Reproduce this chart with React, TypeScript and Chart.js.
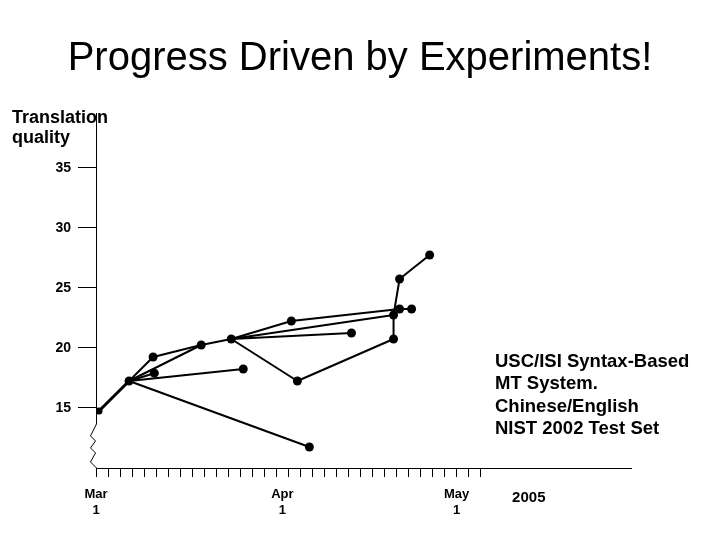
import React, { useEffect, useRef } from 'react';
import { Chart, registerables } from 'chart.js';

Chart.register(...registerables);

const FONT = '"Liberation Sans", Arial, Helvetica, sans-serif';

// Experiments: day offset from Mar 1 2005, translation quality score
const experimentDays = [0.5, 5.5, 9.5, 9.7, 17.5, 22.5, 24.5, 32.5, 33.5, 35.5, 42.5, 49.5, 49.5, 50.5, 52.5, 50.5, 55.5];
const experimentScores = [14.75, 17.25, 19.25, 17.9, 20.25, 20.75, 18.25, 22.25, 17.25, 11.75, 21.25, 20.75, 22.75, 23.25, 23.25, 25.75, 27.75];
const experimentRadii = [3.5, 4.5, 4.5, 4.5, 4.5, 4.5, 4.5, 4.5, 4.5, 4.5, 4.5, 4.5, 4.5, 4.5, 4.5, 4.5, 4.5];
// Which experiment grew out of which (index pairs)
const links: [number, number][] = [
  [0, 1], [1, 2], [2, 4], [1, 4], [1, 3], [1, 6], [1, 9],
  [4, 5], [5, 7], [5, 12], [5, 10], [5, 8], [8, 11], [11, 12],
  [12, 15], [15, 16], [7, 13], [13, 14],
];

const yTickValues = [15, 20, 25, 30, 35];
const xTickMarkDays = [0, 2, 4, 6, 8, 10, 12, 14, 16, 18, 20, 22, 24, 26, 28, 30, 32, 34, 36, 38, 40, 42, 44, 46, 48, 50, 52, 54, 56, 58, 60, 62, 64];
const xLabelDays = [0, 31, 60];
const xLabelTexts = [['Mar', '1'], ['Apr', '1'], ['May', '1']];
const yearDay = 72;
const yearLabel = '2005';

const titleText = 'Progress Driven by Experiments!';
const yTitleLines = ['Translation', 'quality'];
const noteLines = ['USC/ISI Syntax-Based', 'MT System.', 'Chinese/English', 'NIST 2002 Test Set'];

const axisBreakPlugin = {
  id: 'axisBreak',
  beforeDatasetsDraw(chart: any) {
    const { ctx, chartArea } = chart;
    const yScale = chart.scales.y;
    const L = chartArea.left + 0.5;
    const top = chartArea.top;
    const bottom = chartArea.bottom;
    const breakY = yScale.getPixelForValue(13.67);
    ctx.save();
    ctx.strokeStyle = '#000';
    ctx.lineWidth = 1;
    ctx.beginPath();
    ctx.moveTo(L, top);
    ctx.lineTo(L, breakY);
    ctx.lineTo(L - 6, breakY + 12);
    ctx.lineTo(L - 1, breakY + 17);
    ctx.lineTo(L - 6, breakY + 24);
    ctx.lineTo(L - 1, breakY + 29);
    ctx.lineTo(L - 6, breakY + 38);
    ctx.lineTo(L, bottom);
    ctx.stroke();
    ctx.restore();
  },
};

export default function App() {
  const canvasRef = useRef<HTMLCanvasElement | null>(null);

  useEffect(() => {
    if (!canvasRef.current) return;
    const pointData = experimentDays.map((d, i) => ({ x: d, y: experimentScores[i] }));
    const lineSets = links.map(([a, b], i) => ({
      type: 'scatter' as const,
      data: [
        { x: experimentDays[a], y: experimentScores[a] },
        { x: experimentDays[b], y: experimentScores[b] },
      ],
      showLine: true,
      borderColor: '#000',
      borderWidth: i === 0 ? 3 : 2,
      pointRadius: 0,
      pointHoverRadius: 0,
      order: 1,
    }));

    const chart = new Chart(canvasRef.current, {
      type: 'scatter',
      data: {
        datasets: [
          {
            data: pointData,
            showLine: false,
            pointRadius: experimentRadii,
            pointBackgroundColor: '#000',
            pointBorderWidth: 0,
            pointBorderColor: '#000',
            order: 0,
          } as any,
          ...lineSets,
        ],
      },
      options: {
        animation: false,
        responsive: false,
        events: [],
        layout: { padding: { left: 0, top: 113, right: 89, bottom: 0 } },
        plugins: { legend: { display: false }, tooltip: { enabled: false }, title: { display: false } },
        scales: {
          x: {
            type: 'linear',
            min: 0,
            max: 89,
            afterBuildTicks: (s: any) => {
              const vals = [...xTickMarkDays, ...xLabelDays, yearDay].filter((v, i, arr) => arr.indexOf(v) === i).sort((p, q) => p - q);
              s.ticks = vals.map((v) => ({ value: v }));
            },
            afterFit: (s: any) => { s.height = 72; },
            border: { display: true, color: '#000', width: 1 },
            grid: {
              display: true,
              drawOnChartArea: false,
              drawTicks: true,
              tickLength: 9,
              lineWidth: 1,
              tickColor: (c: any) => (c.tick && xTickMarkDays.includes(c.tick.value) ? '#000' : 'rgba(0,0,0,0)'),
            },
            ticks: {
              autoSkip: false,
              maxRotation: 0,
              minRotation: 0,
              padding: 8.7,
              color: '#000',
              font: (c: any) => (c.tick && c.tick.value === yearDay
                ? { family: FONT, size: 15, weight: 'bold', lineHeight: 1.64 }
                : { family: FONT, size: 13, weight: 'bold', lineHeight: 1.28 }),
              callback: (v: any) => {
                const k = xLabelDays.indexOf(Number(v));
                if (k >= 0) return xLabelTexts[k];
                if (Number(v) === yearDay) return yearLabel;
                return '';
              },
            },
          },
          y: {
            type: 'linear',
            min: 10,
            max: 39.58,
            afterBuildTicks: (s: any) => { s.ticks = yTickValues.map((v) => ({ value: v })); },
            afterFit: (s: any) => { s.width = 96; },
            border: { display: false },
            grid: {
              display: true,
              drawOnChartArea: false,
              drawTicks: true,
              tickLength: 18,
              color: '#000',
              tickColor: '#000',
              lineWidth: 1,
            },
            ticks: {
              padding: 7,
              color: '#000',
              font: { family: FONT, size: 14, weight: 'bold' },
            },
          },
        },
      } as any,
      plugins: [axisBreakPlugin],
    });
    return () => chart.destroy();
  }, []);

  return (
    <div style={{ position: 'absolute', left: 0, top: 0, width: 720, height: 540, background: '#fff', overflow: 'hidden' }}>
      <canvas ref={canvasRef} width={720} height={540} style={{ position: 'absolute', left: 0, top: 0 }} />
      <div
        style={{
          position: 'absolute', left: 0, top: 36, width: 720, textAlign: 'center',
          fontFamily: FONT, fontSize: 40, lineHeight: '40px', color: '#000', whiteSpace: 'nowrap',
        }}
      >
        {titleText}
      </div>
      <div
        style={{
          position: 'absolute', left: 12, top: 106.5, fontFamily: FONT, fontSize: 18, fontWeight: 'bold',
          lineHeight: '20.5px', color: '#000', whiteSpace: 'nowrap',
        }}
      >
        {yTitleLines.map((t) => <div key={t}>{t}</div>)}
      </div>
      <div
        style={{
          position: 'absolute', left: 495, top: 349.6, fontFamily: FONT, fontSize: 18.5, fontWeight: 'bold',
          lineHeight: '22.5px', color: '#000', whiteSpace: 'nowrap',
        }}
      >
        {noteLines.map((t) => <div key={t}>{t}</div>)}
      </div>
    </div>
  );
}
